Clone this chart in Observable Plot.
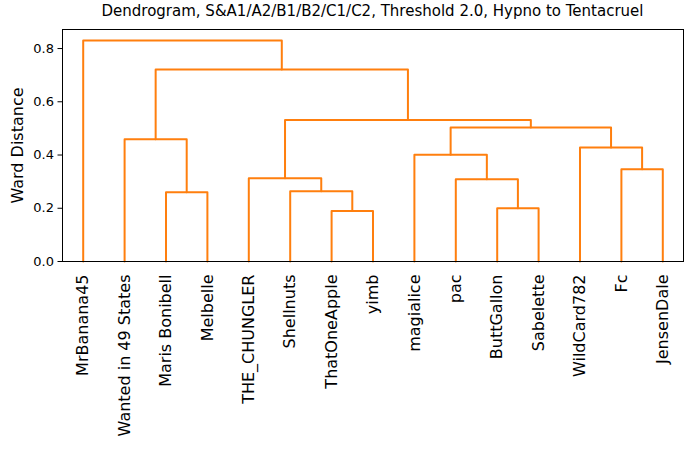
<!DOCTYPE html>
<html>
<head>
<meta charset="utf-8">
<script src="https://cdn.jsdelivr.net/npm/d3@7"></script>
<script src="https://cdn.jsdelivr.net/npm/@observablehq/plot@0.6"></script>
<style>
  html, body { margin: 0; padding: 0; background: #fff; }
  #title { width: 692px; box-sizing: border-box; padding-left: 62px; padding-right: 9px; height: 22px; line-height: 22px; text-align: center; font-family: "DejaVu Sans", sans-serif; font-size: 15px; color: #000; }
  svg g[aria-label="y-axis label"] text { font-size: 16px; }
  svg { display: block; }
</style>
</head>
<body>
<div id="title">Dendrogram, S&amp;A1/A2/B1/B2/C1/C2, Threshold 2.0, Hypno to Tentacruel</div>
<div id="chart"></div>
<script>
// Leaves in dendrogram order
const leaves = ["MrBanana45", "Wanted in 49 States", "Maris Bonibell", "Melbelle", "THE_CHUNGLER",
  "Shellnuts", "ThatOneApple", "yimb", "magialice", "pac", "ButtGallon", "Sabelette",
  "WildCard782", "Fc", "JensenDale"];
// Linkage (scipy style): node ids 0..14 are leaves, 15+k is merge k
const mergeA = [6, 10, 2, 5, 9, 4, 13, 8, 12, 1, 22, 20, 24, 0];
const mergeB = [7, 11, 3, 15, 16, 18, 14, 19, 21, 17, 23, 25, 26, 27];
const mergeHeight = [0.190, 0.200, 0.260, 0.264, 0.309, 0.313, 0.347, 0.401, 0.428, 0.459, 0.503, 0.532, 0.721, 0.830];
const yTicks = [0, 0.2, 0.4, 0.6, 0.8];

// Build dendrogram link paths from the linkage
const nodeX = leaves.map((_, i) => 5 + 10 * i);
const nodeY = leaves.map(() => 0);
const path = [];
mergeHeight.forEach((h, k) => {
  const a = mergeA[k], b = mergeB[k];
  const xa = nodeX[a], xb = nodeX[b];
  path.push({k, x: xa, y: nodeY[a]}, {k, x: xa, y: h}, {k, x: xb, y: h}, {k, x: xb, y: nodeY[b]});
  nodeX.push((xa + xb) / 2);
  nodeY.push(h);
});

const n = leaves.length;
const chart = Plot.plot({
  width: 692,
  height: 427,
  marginTop: 7,
  marginLeft: 62,
  marginRight: 9,
  marginBottom: 188,
  style: {fontFamily: "DejaVu Sans, sans-serif", color: "#000", background: "#fff"},
  x: {domain: [0, 10 * n]},
  y: {domain: [0, Math.max(...mergeHeight) * 1.05]},
  marks: [
    Plot.line(path, {x: "x", y: "y", z: "k", stroke: "#ff7f0e", strokeWidth: 2}),
    Plot.frame({stroke: "#000", strokeWidth: 1}),
    Plot.axisY({ticks: yTicks, tickFormat: d => d.toFixed(1), tickSize: 4.5, tickPadding: 4, fontSize: 13,
      label: "Ward Distance", labelAnchor: "center", labelArrow: "none", labelOffset: 51}),
    Plot.axisX({ticks: leaves.map((_, i) => 5 + 10 * i), tickFormat: d => leaves[Math.round((d - 5) / 10)],
      tickRotate: -90, tickSize: 0, tickPadding: 13, fontSize: 16, label: null})
  ]
});
document.getElementById("chart").appendChild(chart);
</script>
</body>
</html>
